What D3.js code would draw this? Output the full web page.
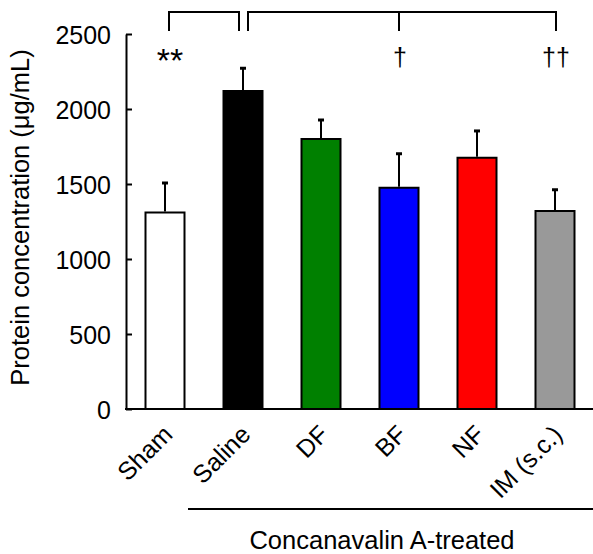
<!DOCTYPE html>
<html><head><meta charset="utf-8">
<script src="https://cdn.jsdelivr.net/npm/d3@7"></script>
<style>html,body{margin:0;padding:0;background:#fff}svg{display:block}</style>
</head><body>
<svg id="c" width="593" height="554"></svg>
<script>
const categories = ["Sham", "Saline", "DF", "BF", "NF", "IM (s.c.)"];
const means = [1310, 2120, 1800, 1475, 1675, 1320];
const sems = [200, 155, 130, 230, 182, 145];
const colors = ["#ffffff", "#000000", "#008000", "#0000ff", "#ff0000", "#999999"];
const yTicks = [0, 500, 1000, 1500, 2000, 2500];
const yLabel = "Protein concentration (\u03bcg/mL)";
const groupLabel = "Concanavalin A-treated";
const marks = [{cat: "Sham", text: "**"}, {cat: "BF", text: "\u2020"}, {cat: "IM (s.c.)", text: "\u2020\u2020"}];

const FONT = "'Liberation Sans', Arial, sans-serif";
const svg = d3.select("#c");
const x0 = 126, x1 = 594, yTop = 34, yBot = 409;
const x = d3.scaleBand().domain(categories).range([x0, x1]).paddingInner(0.5).paddingOuter(0.25);
const y = d3.scaleLinear().domain([0, 2500]).range([yBot, yTop]);
const cx = c => x(c) + x.bandwidth() / 2;

// bars
svg.selectAll("rect.bar").data(categories).join("rect")
  .attr("x", d => x(d)).attr("width", x.bandwidth())
  .attr("y", (d, i) => y(means[i])).attr("height", (d, i) => y(0) - y(means[i]))
  .attr("fill", (d, i) => colors[i]).attr("stroke", "#000").attr("stroke-width", 2);

// error bars
const eg = svg.append("g").attr("stroke", "#000");
categories.forEach((c, i) => {
  eg.append("line").attr("x1", cx(c)).attr("x2", cx(c))
    .attr("y1", y(means[i]) - 1).attr("y2", y(means[i] + sems[i])).attr("stroke-width", 2);
  eg.append("line").attr("x1", cx(c) - 3).attr("x2", cx(c) + 3)
    .attr("y1", y(means[i] + sems[i]) + 0.5).attr("y2", y(means[i] + sems[i]) + 0.5).attr("stroke-width", 3);
});

// y axis
const ya = d3.axisLeft(y).tickValues(yTicks).tickSize(-6).tickSizeOuter(0).tickPadding(15).tickFormat(d3.format("d"));
const yg = svg.append("g").attr("transform", `translate(${x0},0)`).call(ya)
  .attr("font-size", 25).attr("font-family", FONT);
yg.select(".domain").attr("stroke-width", 2).attr("stroke", "#000");
yg.selectAll(".tick line").attr("stroke-width", 2).attr("stroke", "#000");
yg.selectAll(".tick text").style("font-family", FONT).style("font-size", "25px").attr("fill", "#000")
  .attr("dy", "0.36em");

// x axis
const xa = d3.axisBottom(x).tickSize(0).tickSizeOuter(0).tickPadding(0);
const xg = svg.append("g").attr("transform", `translate(0,${yBot})`).call(xa)
  .attr("font-size", 25).attr("font-family", FONT);
xg.select(".domain").attr("stroke-width", 2).attr("stroke", "#000").attr("d", `M${x0 - 1},0H${x1}`);
xg.selectAll(".tick text").style("font-family", FONT).style("font-size", "25px").attr("fill", "#000")
  .attr("text-anchor", "end").attr("dy", 0).attr("y", 0)
  .attr("transform", "translate(9,27) rotate(-45)");

// y title
svg.append("text").attr("transform", `translate(29,217.5) rotate(-90)`)
  .attr("text-anchor", "middle").style("font-family", FONT).style("font-size", "25.5px").text(yLabel);

// group line and label
svg.append("line").attr("x1", 188).attr("x2", 593).attr("y1", 509).attr("y2", 509)
  .attr("stroke", "#000").attr("stroke-width", 2);
svg.append("text").attr("x", 382).attr("y", 549).attr("text-anchor", "middle")
  .style("font-family", FONT).style("font-size", "25.5px").text(groupLabel);

// brackets
const bt = 12, bb = 31;
const br = svg.append("g").attr("stroke", "#000").attr("stroke-width", 2).attr("fill", "none");
const l1 = cx("Sham") + 4, l2 = cx("Saline") - 4;
br.append("path").attr("d", `M${l1},${bb}V${bt}H${l2}V${bb}`);
const r1 = cx("Saline") + 5, r2 = cx("IM (s.c.)") + 1;
br.append("path").attr("d", `M${r1},${bb}V${bt}H${r2}V${bb}`);
br.append("path").attr("d", `M${cx("BF")},${bt}V${bb}`);

svg.selectAll("text.sig").data(marks).join("text").attr("class", "sig")
  .attr("x", d => cx(d.cat) + (d.cat === "Sham" ? 5 : 1))
  .attr("y", d => d.cat === "Sham" ? 72 : 66)
  .attr("text-anchor", "middle").style("font-family", FONT)
  .style("font-size", d => d.cat === "Sham" ? "34px" : "25px").text(d => d.text);
</script>
</body></html>
